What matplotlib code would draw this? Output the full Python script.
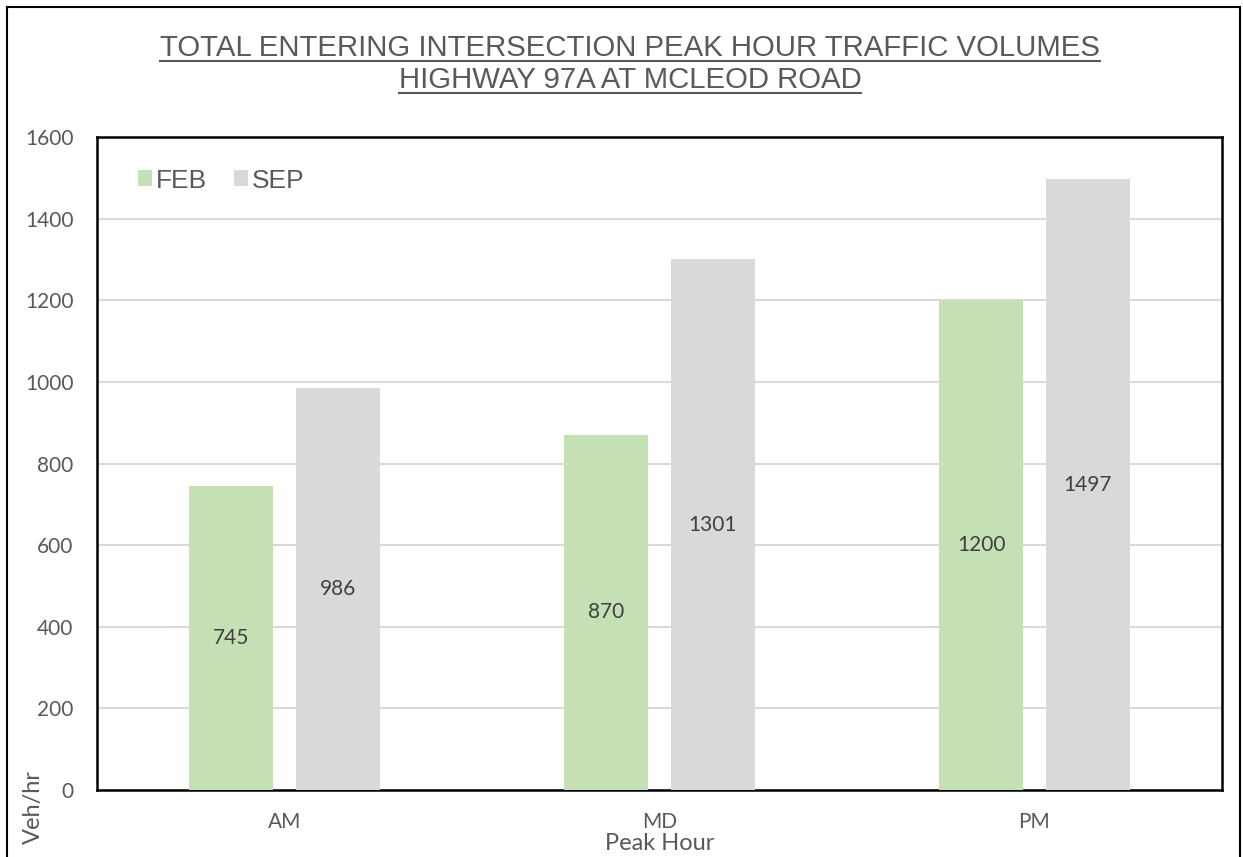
import numpy as np
import matplotlib
matplotlib.use('Agg')
from matplotlib import pyplot as plt
from matplotlib.patches import Rectangle
from matplotlib.lines import Line2D

# data
categories = ['AM', 'MD', 'PM']
feb = [745, 870, 1200]
sep = [986, 1301, 1497]
series_names = ['FEB', 'SEP']
yticks = [0, 200, 400, 600, 800, 1000, 1200, 1400, 1600]

W, H = 1243, 857
fig = plt.figure(figsize=(W / 100, H / 100), dpi=100)
ax = fig.add_axes([97 / W, 1 - 790 / H, (1222 - 97) / W, (790 - 137) / H])

x = np.arange(len(categories))
bw = 0.224
off = 0.142
b1 = ax.bar(x - off, feb, bw, color='#C5E0B4', label=series_names[0], zorder=3)
b2 = ax.bar(x + off, sep, bw, color='#D9D9D9', label=series_names[1], zorder=3)

lab_font = ['Lato', 'DejaVu Sans']
for bars, vals in [(b1, feb), (b2, sep)]:
    for r, v in zip(bars, vals):
        ax.text(r.get_x() + r.get_width() / 2, v / 2, str(v), ha='center', va='center',
                fontsize=15, color='#404040', family=lab_font, zorder=4)

ax.set_xlim(-0.5, 2.5)
ax.set_ylim(0, 1600)
ax.set_yticks(yticks)
ax.set_xticks(x)
ax.set_xticklabels(categories)
ax.tick_params(length=0, labelsize=15, labelcolor='#595959')
for lbl in ax.get_xticklabels() + ax.get_yticklabels():
    lbl.set_family(lab_font)
ax.tick_params(axis='y', pad=17)
ax.tick_params(axis='x', pad=16)
ax.grid(axis='y', color='#D9D9D9', lw=1.5, zorder=0)
for s in ax.spines.values():
    s.set_color('black')
    s.set_linewidth(1.8)

leg = ax.legend(loc='upper left', bbox_to_anchor=(0.015, 0.988), ncol=2, frameon=False,
                prop={'family': ['Liberation Sans', 'DejaVu Sans'], 'size': 19},
                handlelength=0.55, handleheight=0.55, handletextpad=0.15, columnspacing=1.0)
for t in leg.get_texts():
    t.set_color('#595959')

fig.text(660 / W, 1 - 844 / H, 'Peak Hour', ha='center', va='center', fontsize=17,
         color='#595959', family=lab_font)
fig.text(33 / W, 1 - 807 / H, 'Veh/hr', ha='center', va='center', rotation=90, fontsize=17,
         color='#595959', family=lab_font)

title_font = ['Liberation Sans Narrow', 'Liberation Sans', 'DejaVu Sans']
t1 = fig.text(630 / W, 1 - 48 / H, 'TOTAL ENTERING INTERSECTION PEAK HOUR TRAFFIC VOLUMES',
              ha='center', va='center', fontsize=21.2, color='#595959', family=title_font)
t2 = fig.text(630 / W, 1 - 80 / H, 'HIGHWAY 97A AT MCLEOD ROAD',
              ha='center', va='center', fontsize=21.2, color='#595959', family=title_font)

# underline the title lines
fig.canvas.draw()
rend = fig.canvas.get_renderer()
for t, yy in [(t1, 61), (t2, 93)]:
    bb = t.get_window_extent(rend)
    fig.add_artist(Line2D([bb.x0 / W, bb.x1 / W], [1 - yy / H, 1 - yy / H],
                          transform=fig.transFigure, color='#595959', lw=1.5))

# outer chart border
fig.add_artist(Rectangle((7 / W, -0.05), (1240 - 7) / W, 1.05 - 7 / H,
                         transform=fig.transFigure, fill=False, edgecolor='black', lw=1.5))

fig.savefig('out.png', dpi=100)
